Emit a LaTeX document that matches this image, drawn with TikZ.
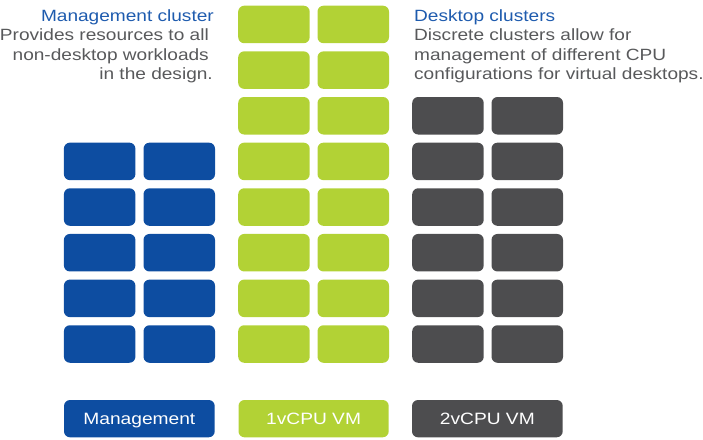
\documentclass[tikz,border=0pt]{standalone}
\usepackage{fontspec}
\setmainfont{Liberation Sans}[FakeStretch=1.17]
\definecolor{mgmt}{HTML}{0D4DA1}
\definecolor{vone}{HTML}{B2D235}
\definecolor{vtwo}{HTML}{4D4D4F}
\definecolor{titleblue}{HTML}{1E5BAE}
\definecolor{bodygray}{HTML}{58595B}
\begin{document}
\begin{tikzpicture}[x=1pt,y=-1pt,
  blk/.style={rounded corners=6pt, inner sep=0pt, minimum width=71.5pt, minimum height=37.5pt, anchor=north west},
  lbl/.style={rounded corners=6pt, inner sep=0pt, minimum height=37.3pt, text=white,
    font=\fontsize{16.4}{20}\selectfont, text height=11.8pt, text depth=0pt},
  ttl/.style={text=titleblue, inner sep=0pt, font=\fontsize{16.3}{19.5}\selectfont},
  bdy/.style={text=bodygray, inner sep=0pt, font=\fontsize{16.3}{19.5}\selectfont}]
\useasboundingbox (0,0) rectangle (703,439);
% management cluster
\foreach \r in {3,...,7}
  \foreach \c in {0,1}
    \node[blk, fill=mgmt] (m-\r-\c) at ({63.7+79.6*\c},{5.5+45.65*\r}) {};
% 1 vCPU cluster
\foreach \r in {0,...,7}
  \foreach \c in {0,1}
    \node[blk, fill=vone] (g-\r-\c) at ({238+79.3*\c},{5.5+45.65*\r}) {};
% 2 vCPU cluster
\foreach \r in {2,...,7}
  \foreach \c in {0,1}
    \node[blk, fill=vtwo] (d-\r-\c) at ({412+79.3*\c},{5.5+45.65*\r}) {};
% legend labels
\node[lbl, fill=mgmt, minimum width=150.7pt] (lm) at (139.35,418.65) {Management};
\node[lbl, fill=vone, minimum width=150.2pt] (l1) at (313.6,418.65) {1vCPU VM};
\node[lbl, fill=vtwo, minimum width=150.7pt] (l2) at (487.35,418.65) {2vCPU VM};
% left text
\node[ttl, anchor=base east] (tm) at (214,21) {Management cluster};
\node[bdy, anchor=base east] (tm1) at (209,40.5) {Provides resources to all};
\node[bdy, anchor=base east] (tm2) at (209,60) {non-desktop workloads};
\node[bdy, anchor=base east] (tm3) at (213,79.5) {in the design.};
% right text
\node[ttl, anchor=base west] (td) at (414,21) {Desktop clusters};
\node[bdy, anchor=base west] (td1) at (414,40.5) {Discrete clusters allow for};
\node[bdy, anchor=base west] (td2) at (414,60) {management of different CPU};
\node[bdy, anchor=base west] (td3) at (414,79.5) {configurations for virtual desktops.};
\end{tikzpicture}
\end{document}
